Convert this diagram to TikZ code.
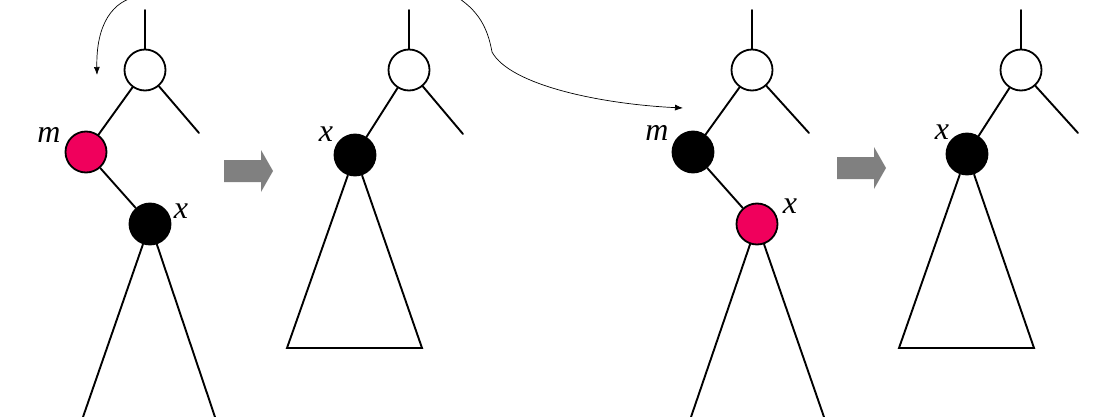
\documentclass[tikz,border=0pt]{standalone}
\usepackage{fontspec}
\setmainfont{Liberation Serif}
\usetikzlibrary{arrows.meta}
\definecolor{rbred}{RGB}{240,0,92}
\definecolor{blockgray}{RGB}{128,128,128}
\newcommand{\labfont}{\fontsize{32}{36}\selectfont\itshape}
\tikzset{
  wnode/.style={circle, draw=black, fill=white, line width=1.8pt, minimum size=41pt, inner sep=0pt},
  bnode/.style={wnode, fill=black},
  rnode/.style={wnode, fill=rbred},
  edge/.style={line width=1.9pt, line cap=round},
  lab/.style={font=\labfont, inner sep=0pt},
  blockarrow/.style={fill=blockgray, draw=none},
  thincurve/.style={line width=0.7pt, -{Latex[length=8pt,width=6pt]}}
}
\begin{document}
\begin{tikzpicture}[x=1pt,y=-1pt]
\useasboundingbox (0,0) rectangle (1107,417);
\clip (0,0) rectangle (1107,417);

% ---------- tree 1 ----------
\coordinate (t1top) at (145,10);
\node[wnode] (t1p) at (145,70) {};
\node[rnode] (t1m) at (86,152) {};
\node[bnode] (t1x) at (150,224) {};
\coordinate (t1r) at (199,133);
\coordinate (t1bl) at (83,417);
\coordinate (t1br) at (215,417);
\draw[edge] (t1top) -- (t1p);
\draw[edge] (t1p) -- (t1m);
\draw[edge] (t1p) -- (t1r);
\draw[edge] (t1m) -- (t1x);
\draw[edge] (t1x) -- (t1bl);
\draw[edge] (t1x) -- (t1br);
\node[lab] (t1ml) at (49,135) {m};
\node[lab] (t1xl) at (181,211) {x};

% ---------- block arrow 1 ----------
\fill[blockarrow] (224,160) -- (261,160) -- (261,150) -- (273,171) -- (261,192) -- (261,182) -- (224,182) -- cycle;

% ---------- tree 2 ----------
\coordinate (t2top) at (409,10);
\node[wnode] (t2p) at (409,70) {};
\node[bnode] (t2x) at (355,155) {};
\coordinate (t2r) at (463,134);
\coordinate (t2bl) at (287,348);
\coordinate (t2br) at (422,348);
\draw[edge] (t2top) -- (t2p);
\draw[edge] (t2p) -- (t2x);
\draw[edge] (t2p) -- (t2r);
\draw[edge, line join=miter, line cap=butt] (t2x) -- (t2bl) -- (t2br) -- (t2x);
\node[lab] (t2xl) at (326,134) {x};

% ---------- tree 3 ----------
\coordinate (t3top) at (752,10);
\node[wnode] (t3p) at (752,70) {};
\node[bnode] (t3m) at (693,152) {};
\node[rnode] (t3x) at (757,224) {};
\coordinate (t3r) at (809,133);
\coordinate (t3bl) at (691,417);
\coordinate (t3br) at (824,417);
\draw[edge] (t3top) -- (t3p);
\draw[edge] (t3p) -- (t3m);
\draw[edge] (t3p) -- (t3r);
\draw[edge] (t3m) -- (t3x);
\draw[edge] (t3x) -- (t3bl);
\draw[edge] (t3x) -- (t3br);
\node[lab] (t3ml) at (657,133) {m};
\node[lab] (t3xl) at (790,206) {x};

% ---------- block arrow 2 ----------
\fill[blockarrow] (837,157) -- (874,157) -- (874,147) -- (886,168) -- (874,189) -- (874,179) -- (837,179) -- cycle;

% ---------- tree 4 ----------
\coordinate (t4top) at (1021,10);
\node[wnode] (t4p) at (1021,70) {};
\node[bnode] (t4x) at (967,154) {};
\coordinate (t4r) at (1078,133);
\coordinate (t4bl) at (899,348);
\coordinate (t4br) at (1034,348);
\draw[edge] (t4top) -- (t4p);
\draw[edge] (t4p) -- (t4x);
\draw[edge] (t4p) -- (t4r);
\draw[edge, line join=miter, line cap=butt] (t4x) -- (t4bl) -- (t4br) -- (t4x);
\node[lab] (t4xl) at (942,132) {x};

% ---------- thin curved arrows ----------
\coordinate (c1s) at (140,-4);
\coordinate (c1e) at (97,75);
\draw[thincurve] (c1s) .. controls (112,0) and (96,25) .. (c1e);
\coordinate (c2s) at (452,-6);
\coordinate (c2m) at (492,52);
\coordinate (c2e) at (683,108);
\draw[line width=0.7pt] (c2s) .. controls (480,10) and (488,30) .. (c2m);
\draw[thincurve] (c2m) .. controls (510,85) and (600,104) .. (c2e);
\end{tikzpicture}
\end{document}
